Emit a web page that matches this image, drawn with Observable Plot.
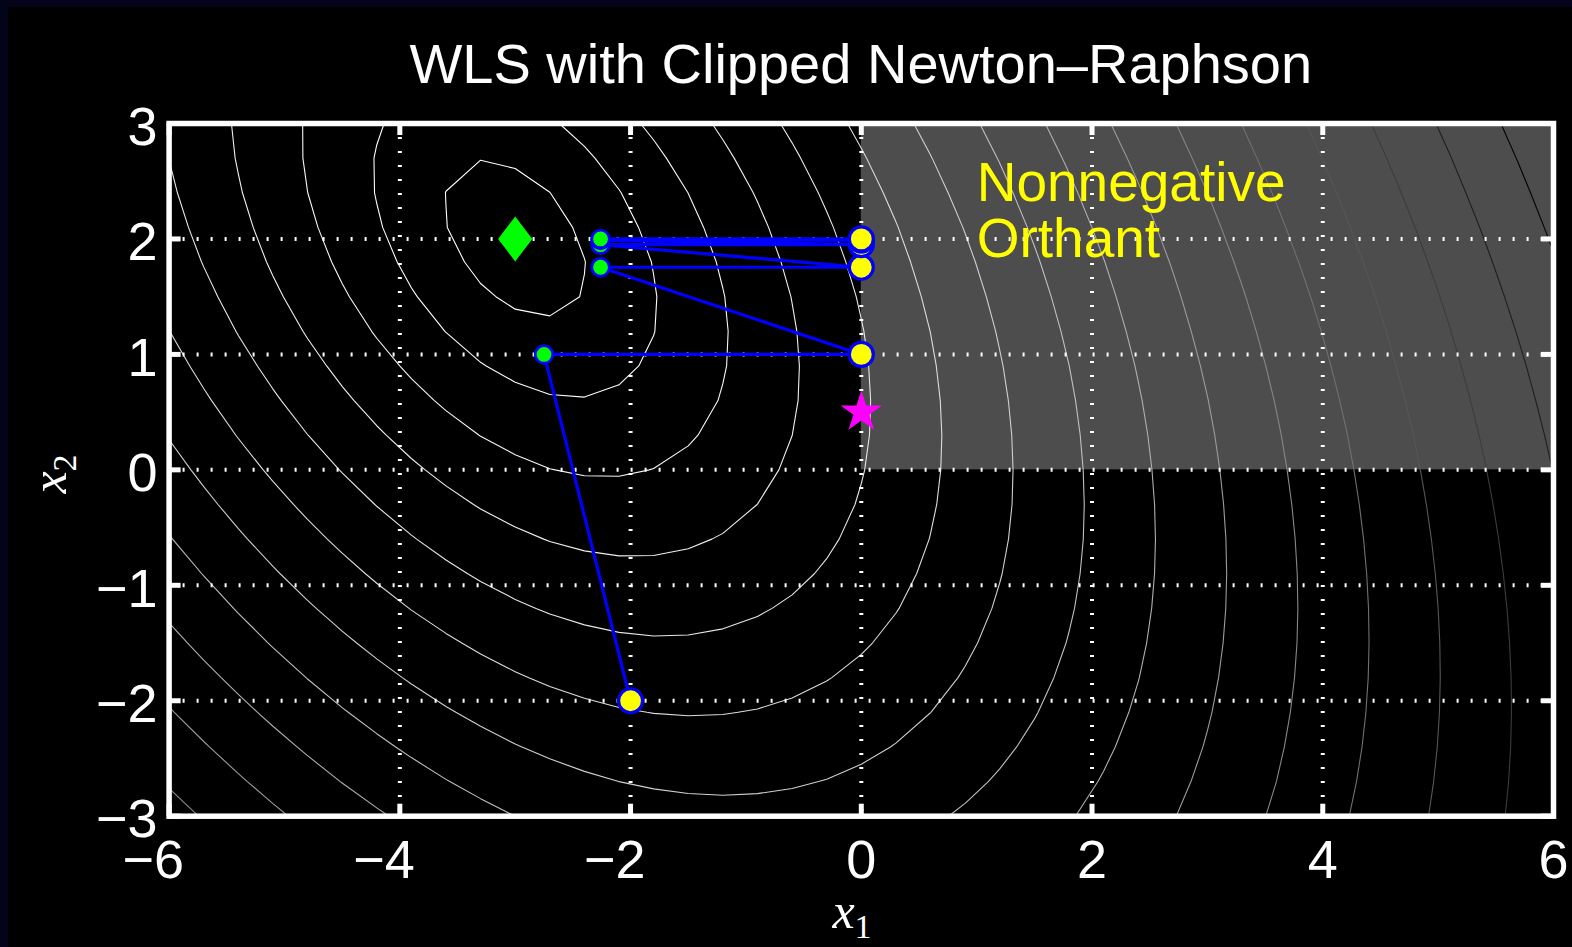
<!DOCTYPE html>
<html>
<head>
<meta charset="utf-8">
<script src="https://cdn.jsdelivr.net/npm/d3@7"></script>
<script src="https://cdn.jsdelivr.net/npm/@observablehq/plot@0.6"></script>
<style>
  html, body { margin: 0; padding: 0; background: #000; width: 1572px; height: 947px; overflow: hidden; }
  #wrap { position: relative; width: 1572px; height: 947px; background: #000; }
  #chart { position: absolute; left: 0; top: 0; }
  #overlay { position: absolute; left: 0; top: 0; pointer-events: none; }
  .navyL { position: absolute; left: 0; top: 0; width: 8px; height: 947px; background: #03031a; }
  .navyT { position: absolute; left: 0; top: 0; width: 1572px; height: 7px; background: #03031a; }
</style>
</head>
<body>
<div id="wrap">
  <div id="chart"></div>
  <div class="navyL"></div>
  <div class="navyT"></div>
  <svg id="overlay" width="1572" height="947" xmlns="http://www.w3.org/2000/svg">
    <text x="860.8" y="83" text-anchor="middle" font-family="'Liberation Sans', Arial, Helvetica, sans-serif" font-size="56" fill="#ffffff">WLS with Clipped Newton–Raphson</text>
    <text x="852" y="928" text-anchor="middle" font-family="'Liberation Serif', 'Times New Roman', serif" font-size="50" fill="#ffffff"><tspan font-style="italic">x</tspan><tspan font-size="34" dy="10">1</tspan></text>
    <text transform="translate(66,474) rotate(-90)" text-anchor="middle" font-family="'Liberation Serif', 'Times New Roman', serif" font-size="50" fill="#ffffff"><tspan font-style="italic">x</tspan><tspan font-size="34" dy="10">2</tspan></text>
  </svg>
</div>
<script>
// ---------------- data ----------------
const xDomain = [-6, 6];
const yDomain = [-3, 3];
const xTicks = [-6, -4, -2, 0, 2, 4, 6];
const xTickLabels = ["−6", "−4", "−2", "0", "2", "4", "6"];
const yTicks = [-3, -2, -1, 0, 1, 2, 3];
const yTickLabels = ["−3", "−2", "−1", "0", "1", "2", "3"];

// WLS objective (quadratic form)
const quadCenter = [-3, 2];
const quadMatrix = [[3.19, 1.2], [1.2, 2.56]];
const contourLevels = [1, 4, 9, 16, 25, 36, 49, 64, 81, 100, 121, 144, 169, 196, 225, 256];
// sampling grid of the objective (0.3 spacing, extended past the frame and clipped)
const gridX = [-6.75, 6.75], gridY = [-3.75, 3.75], gridCols = 45, gridRows = 25;

// clipped Newton–Raphson iterates
const iterX1 = [-2, -2.75, 0, -2.26, 0, -2.26, 0, -2.26, 0, -2.26, 0];
const iterX2 = [-2, 1.0, 1.0, 1.755, 1.755, 1.95, 1.95, 1.99, 1.99, 2.0, 2.0];
const iterKind = ["clipped", "newton", "clipped", "newton", "clipped", "newton", "clipped", "newton", "clipped", "newton", "clipped"];

const unconstrainedMin = [{x1: -3, x2: 2}];
const constrainedMin = [{x1: 0, x2: 0.5}];
const orthant = [{x1: 0, x2: 6, y1: 0, y2: 3}];
const annotation = [{x1: 1, x2: 1.84, label: "Nonnegative\nOrthant"}];

// ---------------- layout ----------------
const W = 1572, H = 947;
const mL = 168.6, mR = 19, mT = 123, mB = 131.3;
const tickPx = 12;
const tickUnitsX = tickPx * (xDomain[1] - xDomain[0]) / (W - mL - mR);
const tickUnitsY = tickPx * (yDomain[1] - yDomain[0]) / (H - mT - mB);

const pts = iterX1.map((x, i) => ({x1: x, x2: iterX2[i], kind: iterKind[i]}));
const qf = (x, y) => {
  const dx = x - quadCenter[0], dy = y - quadCenter[1];
  return quadMatrix[0][0] * dx * dx + 2 * quadMatrix[0][1] * dx * dy + quadMatrix[1][1] * dy * dy;
};

const tallDiamond = {
  draw(ctx, size) {
    const r = Math.sqrt(size / Math.PI);
    const w = r * 0.76, h = r;
    ctx.moveTo(0, -h); ctx.lineTo(w, 0); ctx.lineTo(0, h); ctx.lineTo(-w, 0); ctx.closePath();
  }
};

const font = "'Liberation Sans', Arial, Helvetica, sans-serif";

const chart = Plot.plot({
  width: W, height: H,
  marginLeft: mL, marginRight: mR, marginTop: mT, marginBottom: mB,
  x: {domain: xDomain, axis: null},
  y: {domain: yDomain, axis: null},
  color: {type: "linear", domain: [contourLevels[0], contourLevels[contourLevels.length - 1]], range: ["#ffffff", "#000000"]},
  style: {background: "transparent", color: "white", fontFamily: font, overflow: "visible"},
  marks: [
    Plot.rect(orthant, {x1: "x1", x2: "x2", y1: "y1", y2: "y2", fill: "#4d4d4d"}),
    Plot.contour({
      value: qf, x1: gridX[0], x2: gridX[1], y1: gridY[0], y2: gridY[1],
      width: gridCols, height: gridRows, thresholds: contourLevels,
      stroke: "value", fill: "none", strokeWidth: 1.1, clip: true
    }),
    Plot.ruleX(xTicks.slice(1, -1), {x: d => d, stroke: "white", strokeWidth: 4, strokeDasharray: "2,12"}),
    Plot.ruleY(yTicks.slice(1, -1), {y: d => d, stroke: "white", strokeWidth: 4, strokeDasharray: "2,12"}),
    Plot.line(pts, {x: "x1", y: "x2", stroke: "#0000ff", strokeWidth: 3.2}),
    Plot.dot(pts.filter(d => d.kind === "clipped"), {x: "x1", y: "x2", r: 12, fill: "#ffff00", stroke: "#0000ff", strokeWidth: 3.2}),
    Plot.dot(pts.filter(d => d.kind === "newton"), {x: "x1", y: "x2", r: 8.8, fill: "#00ff00", stroke: "#0000ff", strokeWidth: 2.8}),
    Plot.dot(unconstrainedMin, {x: "x1", y: "x2", symbol: tallDiamond, r: 22.5, fill: "#00ff00", stroke: "none"}),
    Plot.dot(constrainedMin, {x: "x1", y: "x2", symbol: "star", r: 13, fill: "#ff00ff", stroke: "none"}),
    Plot.text(annotation, {x: "x1", y: "x2", text: "label", textAnchor: "start", lineAnchor: "bottom", lineHeight: 1.03, fontSize: 55, fill: "#ffff00", fontFamily: font}),
    Plot.frame({stroke: "white", strokeWidth: 5.5}),
    Plot.ruleX(xTicks, {x: d => d, y1: yDomain[0], y2: yDomain[0] + tickUnitsY, stroke: "white", strokeWidth: 5}),
    Plot.ruleX(xTicks, {x: d => d, y1: yDomain[1] - tickUnitsY, y2: yDomain[1], stroke: "white", strokeWidth: 5}),
    Plot.ruleY(yTicks, {y: d => d, x1: xDomain[0], x2: xDomain[0] + tickUnitsX, stroke: "white", strokeWidth: 5}),
    Plot.ruleY(yTicks, {y: d => d, x1: xDomain[1] - tickUnitsX, x2: xDomain[1], stroke: "white", strokeWidth: 5}),
    Plot.text(xTicks, {x: d => d, text: (d, i) => xTickLabels[i], frameAnchor: "bottom", lineAnchor: "top", textAnchor: "end", dx: 15, dy: 23, fontSize: 54, fill: "white", fontFamily: font}),
    Plot.text(yTicks, {y: d => d, text: (d, i) => yTickLabels[i], frameAnchor: "left", lineAnchor: "middle", textAnchor: "end", dx: -11.6, dy: 4, fontSize: 54, fill: "white", fontFamily: font})
  ]
});
document.getElementById("chart").appendChild(chart);
</script>
</body>
</html>
